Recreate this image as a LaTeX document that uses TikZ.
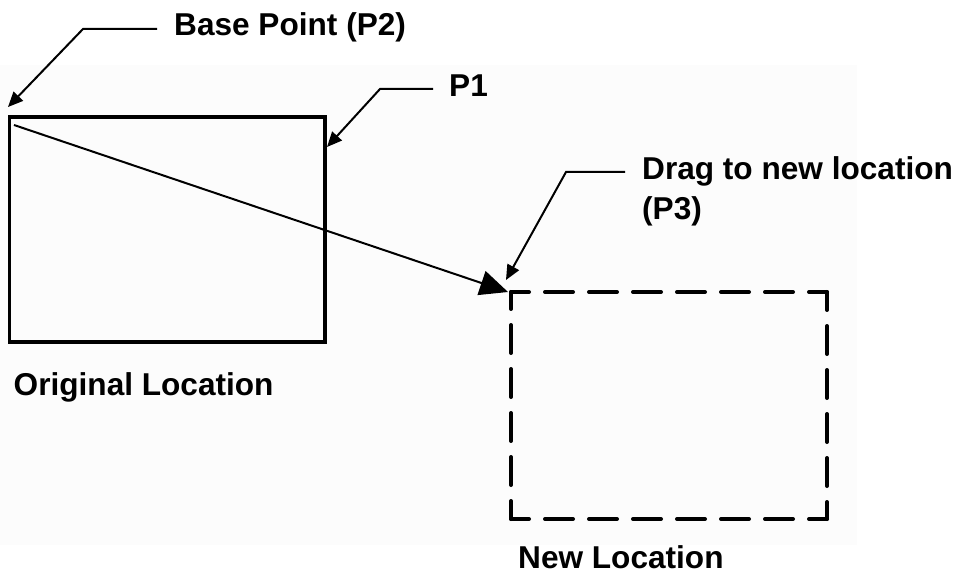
\documentclass[tikz,border=0pt]{standalone}
\usepackage{fontspec}
\setmainfont{Liberation Sans}
\usetikzlibrary{arrows.meta}
\definecolor{bgc}{HTML}{FCFCFC}
\tikzset{
  lbl/.style={anchor=base west, inner sep=0pt, font=\fontsize{31.6}{40}\selectfont\bfseries},
  leader/.style={line width=2pt, -{Triangle[length=15pt,width=13pt]}},
  bigarrow/.style={line width=2pt, -{Triangle[length=28pt,width=25pt]}},
  dashside/.style={line width=4pt, line cap=round, dash pattern=on 28pt off 16pt, dash phase=10pt},
}
\begin{document}
\begin{tikzpicture}[x=1pt,y=-1pt]
\useasboundingbox (0,0) rectangle (961,577);
\fill[bgc] (0,65) rectangle (857,545);

% original rectangle
\node[draw, line width=3.5pt, minimum width=315.5pt, minimum height=225pt, inner sep=0pt, outer sep=0pt, anchor=north west] (orig) at (9.5,117) {};

% new (dashed) rectangle
\node[minimum width=316pt, minimum height=227pt, inner sep=0pt, outer sep=0pt, anchor=north west] (new) at (511,292) {};
\draw[dashside] (new.north west) -- (new.north east);
\draw[dashside] (new.north east) -- (new.south east);
\draw[dashside] (new.south east) -- (new.south west);
\draw[dashside] (new.south west) -- (new.north west);

% labels
\node[lbl] (lbase) at (174,36) {Base Point (P2)};
\node[lbl] (lp1) at (449,97) {P1};
\node[lbl, align=left] (ldrag) at (642,220) {Drag to new location\\(P3)};
\node[lbl] (lorig) at (13.5,395) {Original Location};
\node[lbl] (lnew) at (518,568) {New Location};

% leader coordinates
\coordinate (b1) at (157,29);
\coordinate (b2) at (83,29);
\coordinate (b3) at (8,107);
\coordinate (q1) at (433,89);
\coordinate (q2) at (380,89);
\coordinate (q3) at (327,147);
\coordinate (d1) at (625,172);
\coordinate (d2) at (566,172);
\coordinate (d3) at (506,280);
\coordinate (p2) at (14,125);
\coordinate (p3) at (508,292);

\draw[leader] (b1) -- (b2) -- (b3);
\draw[leader] (q1) -- (q2) -- (q3);
\draw[leader] (d1) -- (d2) -- (d3);
\draw[bigarrow] (p2) -- (p3);
\end{tikzpicture}
\end{document}
